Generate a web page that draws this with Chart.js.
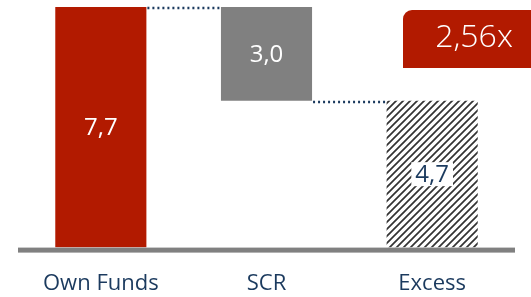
<!DOCTYPE html>
<html>
<head>
<meta charset="utf-8">
<script src="https://cdn.jsdelivr.net/npm/chart.js@4.4.1/dist/chart.umd.min.js"></script>
<style>
  html, body { margin: 0; padding: 0; background: #fff; }
  #wrap { width: 531px; height: 297px; }
</style>
</head>
<body>
<div id="wrap"><canvas id="solvencyChart" width="531" height="297"></canvas></div>
<script>
// waterfall data
var categories = ['Own Funds', 'SCR', 'Excess'];
var values = [7.7, 3.0, 4.7];
var valueLabels = ['7,7', '3,0', '4,7'];
var ratioLabel = '2,56x';

var red = '#B21A00';
var grey = '#808080';
var navy = '#1B3A5E';

// floating bars: own funds from zero, SCR hangs from the top, excess from zero
var ranges = [
     [0, values[0]],
     [values[0] - values[1], values[0]],
     [0, values[2]]
];

const ctx = document.getElementById('solvencyChart').getContext('2d');

// diagonal hatch for the excess bar
function hatchPattern() {
     const c = document.createElement('canvas');
     c.width = 7; c.height = 7;
     const p = c.getContext('2d');
     p.fillStyle = '#fff';
     p.fillRect(0, 0, 7, 7);
     p.strokeStyle = '#333';
     p.lineWidth = 1.7;
     p.beginPath();
     p.moveTo(-1, 8); p.lineTo(8, -1);
     p.moveTo(-4.5, 4.5); p.lineTo(4.5, -4.5);
     p.moveTo(2.5, 11.5); p.lineTo(11.5, 2.5);
     p.stroke();
     return ctx.createPattern(c, 'repeat');
}

const extras = {
     id: 'extras',
     afterDatasetsDraw(chart) {
          const c = chart.ctx;
          const area = chart.chartArea;
          const y = chart.scales.y;
          const bars = chart.getDatasetMeta(0).data;

          // baseline
          c.save();
          c.fillStyle = grey;
          c.fillRect(area.left, y.getPixelForValue(0), area.right - area.left, 5);

          // dotted connectors
          c.strokeStyle = navy;
          c.lineWidth = 2.5;
          c.setLineDash([2, 3]);
          var connect = [[0, 1, values[0]], [1, 2, values[2]]];
          connect.forEach(function(k){
               const a = bars[k[0]], b = bars[k[1]];
               const yy = Math.round(y.getPixelForValue(k[2])) + 1;
               c.beginPath();
               c.moveTo(a.x + a.width / 2 + 1, yy);
               c.lineTo(b.x - b.width / 2 - 1, yy);
               c.stroke();
          });
          c.setLineDash([]);

          // value labels
          c.font = '24px "Open Sans"';
          c.textAlign = 'center';
          c.textBaseline = 'middle';
          bars.forEach(function(bar, i){
               const cy = (y.getPixelForValue(ranges[i][0]) + y.getPixelForValue(ranges[i][1])) / 2;
               if (i == 2) {
                    const w = c.measureText(valueLabels[i]).width + 8;
                    c.fillStyle = '#fff';
                    c.fillRect(bar.x - w / 2, cy - 12, w, 24);
                    c.fillStyle = navy;
               } else {
                    c.fillStyle = '#fff';
               }
               c.fillText(valueLabels[i], bar.x, cy + 1);
          });

          // ratio badge
          c.fillStyle = red;
          c.beginPath();
          c.roundRect(403, 10, 140, 58, [9, 0, 0, 0]);
          c.fill();
          c.fillStyle = '#fff';
          c.font = '300 32px "Open Sans"';
          c.fillText(ratioLabel, 474, 38);
          c.restore();
     }
};

new Chart(ctx, {
     type: 'bar',
     data: {
          labels: categories,
          datasets: [
               {
                    data: ranges,
                    backgroundColor: [red, grey, hatchPattern()],
                    borderWidth: 0,
                    borderSkipped: false,
                    categoryPercentage: 1,
                    barPercentage: 0.55
               }
          ]
     },
     options: {
          responsive: false,
          animation: false,
          layout: { padding: { left: 18, right: 16, top: 7, bottom: -23 } },
          plugins: {
               legend: false,
               tooltip: { enabled: false }
          },
          scales: {
               y: {
                    display: false,
                    min: 0,
                    max: values[0]
               },
               x: {
                    grid: { display: false, drawTicks: false },
                    border: { display: false },
                    ticks: {
                         color: navy,
                         padding: 23,
                         font: { family: 'Open Sans', size: 22 }
                    }
               }
          }
     },
     plugins: [extras]
});
</script>
</body>
</html>
